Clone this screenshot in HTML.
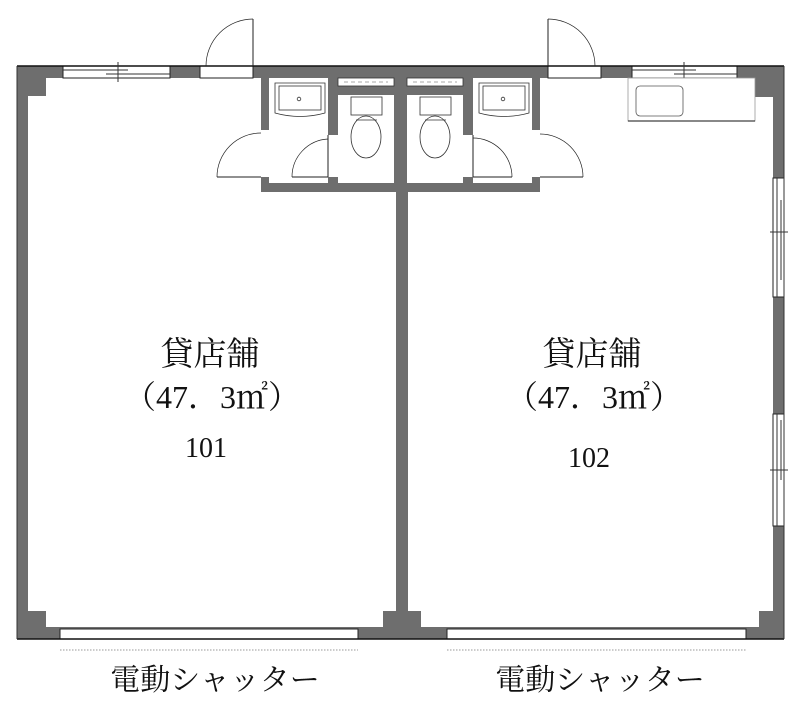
<!DOCTYPE html>
<html><head><meta charset="utf-8"><style>
html,body{margin:0;padding:0;background:#fff;}
svg{display:block;}
text{font-family:"Liberation Serif","Noto Serif CJK SC",serif;fill:#111;}
</style></head><body>
<svg width="800" height="702" viewBox="0 0 800 702" xmlns="http://www.w3.org/2000/svg">
<g fill="#6e6e6e">
<rect x="17" y="66" width="767" height="12"/>
<rect x="17" y="66" width="11" height="573"/>
<rect x="773" y="66" width="11" height="573"/>
<rect x="17" y="627" width="767" height="12"/>
<rect x="17" y="66" width="29" height="30"/>
<rect x="755" y="66" width="29" height="31"/>
<rect x="17" y="611" width="29" height="28"/>
<rect x="759" y="611" width="25" height="28"/>
<rect x="383" y="611" width="38" height="28"/>
<rect x="396" y="78" width="12" height="550"/>
<rect x="261" y="78" width="279" height="114"/>
</g>
<g fill="#fff" stroke="#222" stroke-width="1">
<rect x="63" y="66" width="107" height="12"/>
<rect x="632" y="66" width="105" height="12"/>
<rect x="200" y="66" width="53" height="12"/>
<rect x="548" y="66" width="53" height="12"/>
<rect x="60" y="629" width="298" height="10"/>
<rect x="447" y="629" width="299" height="10"/>
<rect x="773" y="178" width="11" height="119"/>
<rect x="773" y="414" width="11" height="112"/>
</g>
<line x1="17" y1="66" x2="784" y2="66" stroke="#111" stroke-width="1.5"/>
<line x1="17" y1="639" x2="784" y2="639" stroke="#111" stroke-width="1.5"/>
<line x1="784" y1="66" x2="784" y2="639" stroke="#333" stroke-width="1"/>
<line x1="17" y1="66" x2="17" y2="639" stroke="#333" stroke-width="1"/>
<g stroke="#333" stroke-width="1">
<line x1="63" y1="70" x2="128" y2="70"/><line x1="106" y1="74" x2="170" y2="74"/><line x1="118" y1="62" x2="118" y2="82"/>
<line x1="632" y1="70" x2="696" y2="70"/><line x1="674" y1="74" x2="737" y2="74"/><line x1="684" y1="62" x2="684" y2="82"/>
<line x1="777" y1="178" x2="777" y2="297"/><line x1="781" y1="200" x2="781" y2="280"/><line x1="770" y1="232" x2="788" y2="232"/>
<line x1="777" y1="414" x2="777" y2="526"/><line x1="781" y1="420" x2="781" y2="480"/><line x1="770" y1="470" x2="788" y2="470"/>
</g>
<g fill="#fff">
<rect x="269" y="78" width="59" height="105"/>
<rect x="338" y="95" width="56" height="88"/>
<rect x="407" y="95" width="56" height="88"/>
<rect x="473" y="78" width="59" height="105"/>
<rect x="261" y="130" width="8" height="47"/>
<rect x="532" y="130" width="8" height="47"/>
<rect x="328" y="135" width="10" height="42"/>
<rect x="463" y="135" width="10" height="42"/>
</g>
<g fill="#fff" stroke="#333" stroke-width="0.8">
<rect x="338" y="78" width="56" height="8"/>
<rect x="407" y="78" width="56" height="8"/>
</g>
<g stroke="#555" stroke-width="0.6"><line x1="344" y1="82" x2="388" y2="82" stroke-dasharray="4,3"/><line x1="413" y1="82" x2="457" y2="82" stroke-dasharray="4,3"/></g>
<g fill="none" stroke="#222" stroke-width="1">
<line x1="253" y1="19" x2="253" y2="66"/><path d="M253 19 A47 47 0 0 0 206 66" stroke-width="0.7"/>
<line x1="548" y1="19" x2="548" y2="66"/><path d="M548 19 A47 47 0 0 1 595 66" stroke-width="0.7"/>
<line x1="217" y1="177" x2="261" y2="177"/><path d="M217 177 A44 44 0 0 1 261 133" stroke-width="0.7"/>
<line x1="540" y1="177" x2="583" y2="177"/><path d="M583 177 A43 43 0 0 0 540 134" stroke-width="0.7"/>
<line x1="292" y1="177" x2="328" y2="177"/><line x1="328" y1="135" x2="328" y2="177"/><path d="M292 177 A38 38 0 0 1 328 139" stroke-width="0.7"/>
<line x1="473" y1="177" x2="512" y2="177"/><line x1="473" y1="135" x2="473" y2="177"/><path d="M512 177 A39 39 0 0 0 473 138" stroke-width="0.7"/>
</g>
<g fill="#fff" stroke="#333" stroke-width="0.8">
<path d="M275 83 H325 V113 Q300 120 275 113 Z"/>
<rect x="279" y="86" width="42" height="24"/>
<circle cx="299" cy="99" r="1.8"/>
<path d="M479 83 H529 V113 Q504 120 479 113 Z"/>
<rect x="483" y="86" width="42" height="24"/>
<circle cx="503" cy="99" r="1.8"/>
<rect x="351" y="97" width="31" height="18"/>
<ellipse cx="366" cy="137" rx="15" ry="21"/>
<line x1="356" y1="120" x2="377" y2="120"/>
<rect x="420" y="97" width="31" height="18"/>
<ellipse cx="435" cy="137" rx="15" ry="21"/>
<line x1="425" y1="120" x2="446" y2="120"/>
<rect x="628" y="78" width="127" height="43" stroke="#999"/>
<rect x="636" y="86" width="47" height="30" rx="4" stroke="#555"/>
</g>
<line x1="628" y1="121" x2="755" y2="121" stroke="#111" stroke-width="1"/>
<g stroke="#777" stroke-width="0.8" stroke-dasharray="1.5,1.5">
<line x1="60" y1="650" x2="358" y2="650"/>
<line x1="447" y1="650" x2="746" y2="650"/>
</g>
<text x="210" y="365" font-size="33" text-anchor="middle">貸店舗</text>
<text x="212" y="408" font-size="32" text-anchor="middle">（47．3㎡）</text>
<text x="206" y="457" font-size="28" text-anchor="middle">101</text>
<text x="592" y="365" font-size="33" text-anchor="middle">貸店舗</text>
<text x="594" y="408" font-size="32" text-anchor="middle">（47．3㎡）</text>
<text x="589" y="467" font-size="28" text-anchor="middle">102</text>
<text x="215" y="690" font-size="30" text-anchor="middle">電動シャッター</text>
<text x="600" y="690" font-size="30" text-anchor="middle">電動シャッター</text>
</svg>
</body></html>
